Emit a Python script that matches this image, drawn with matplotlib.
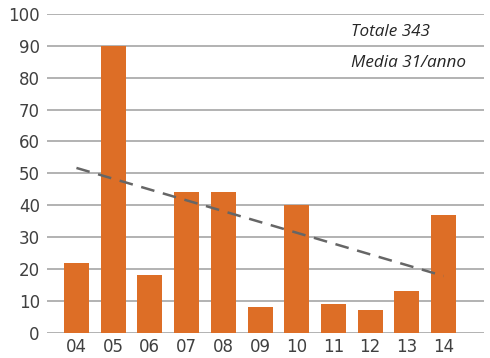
import matplotlib
matplotlib.use("Agg")
import matplotlib.pyplot as plt

years = ["04", "05", "06", "07", "08", "09", "10", "11", "12", "13", "14"]
values = [22, 90, 18, 44, 44, 8, 40, 9, 7, 13, 37]
trend_years = ["04", "14"]
trend_values = [51.7, 17.8]
yticks = [0, 10, 20, 30, 40, 50, 60, 70, 80, 90, 100]
note_lines = ["Totale 343", "Media 31/anno"]

W, H = 490, 358
fig = plt.figure(figsize=(W / 100, H / 100), dpi=100)
left, right, top, bottom = 46.7, 484, 14, 332.7
ax = fig.add_axes([left / W, 1 - bottom / H, (right - left) / W, (bottom - top) / H])

xs = list(range(len(years)))
ax.bar(xs, values, width=0.68, color="#DD6E26", zorder=3)
tx = [years.index(y) for y in trend_years]
ax.plot(tx, trend_values, color="#666666", lw=1.8, dashes=(5.5, 3.5), zorder=4)

ax.set_xlim(-0.81, len(years) - 1 + 1.10)
ax.set_ylim(0, 100)
ax.set_yticks(yticks)
ax.set_xticks(xs)
ax.set_xticklabels(years)
ax.grid(axis="y", color="#A6A6A6", lw=1.2, zorder=0)
ax.set_axisbelow(True)
for s in ax.spines.values():
    s.set_visible(False)
ax.tick_params(axis="both", length=0, labelsize=12, colors="#404040", labelfontfamily="DejaVu Sans")
ax.tick_params(axis="y", pad=5)
ax.tick_params(axis="x", pad=4)

fig.text(351 / W, 1 - 32 / H, note_lines[0], ha="left", va="center", fontsize=12.3,
         style="italic", color="#262626", family="Open Sans")
fig.text(351 / W, 1 - 63 / H, note_lines[1], ha="left", va="center", fontsize=12.3,
         style="italic", color="#262626", family="Open Sans")

fig.savefig("out.png", dpi=100)
